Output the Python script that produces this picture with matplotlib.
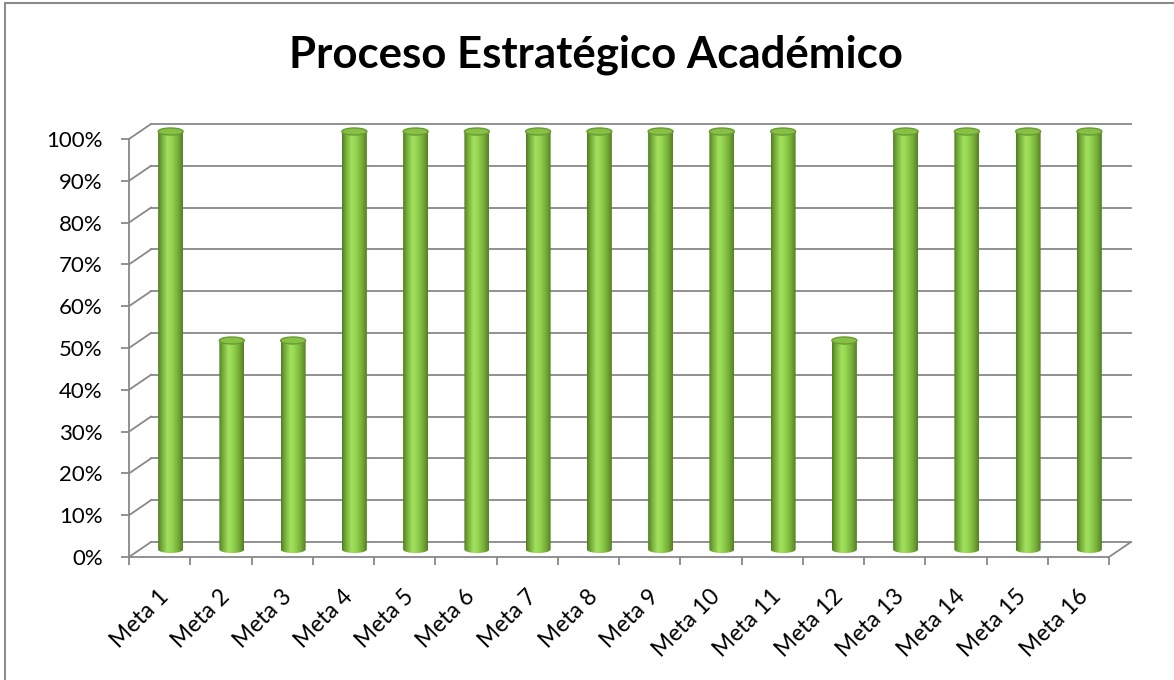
import numpy as np
import matplotlib
matplotlib.use("Agg")
import matplotlib.pyplot as plt
from matplotlib.patches import Ellipse, Polygon, Rectangle
from matplotlib.colors import LinearSegmentedColormap

# ---- datos ----------------------------------------------------------------
metas = ["Meta %d" % i for i in range(1, 17)]
avance = [100, 50, 50, 100, 100, 100, 100, 100, 100, 100, 100, 50, 100, 100, 100, 100]
yticks = list(range(0, 101, 10))
titulo = "Proceso Estratégico Académico"

# ---- geometría (pixeles de la imagen de referencia) -----------------------
W, H, DPI = 1174, 680, 100
PX_X = 61.25          # px por categoría
PX_Y = 4.18           # px por 1 %
X0, Y0 = 129, 557     # origen (0, 0%) en px
DX, DY = 22 / PX_X, 15 / PX_Y   # desplazamiento de la pared de fondo (pseudo 3D)
BAR_W = 25 / PX_X
ELL_H = 7 / PX_Y
GRID = "#888888"

plt.rcParams["font.family"] = ["Lato", "DejaVu Sans"]

fig = plt.figure(figsize=(W / DPI, H / DPI), dpi=DPI)
xmax, ymax = 16.7, 108
ax = fig.add_axes([X0 / W, (H - Y0) / H, xmax * PX_X / W, ymax * PX_Y / H])
ax.set_facecolor("none")

n = len(metas)

# pared de fondo + líneas oblicuas
for y in yticks:
    ax.plot([DX, n + DX], [y + DY, y + DY], color=GRID, lw=1.3, zorder=1)
    ax.plot([0, DX], [y, y + DY], color=GRID, lw=1.3, zorder=1)
ax.plot([n, n + DX], [0, DY], color=GRID, lw=1.3, zorder=1)

# cilindros
cmap = LinearSegmentedColormap.from_list("cil", [
    (0.0, "#4f7d22"), (0.12, "#6fa535"), (0.38, "#a2e05e"),
    (0.55, "#95d651"), (0.82, "#74ab36"), (1.0, "#557f26")])
grad = cmap(np.linspace(0, 1, 64))[None, :, :]
t = np.linspace(np.pi, 2 * np.pi, 40)
for i, v in enumerate(avance):
    cx = i + 0.5 + DX / 2
    base, top = DY / 2, v + DY / 2
    left, right = cx - BAR_W / 2, cx + BAR_W / 2
    arc = np.column_stack([cx + BAR_W / 2 * np.cos(t), base + ELL_H / 2 * np.sin(t)])
    pts = np.vstack([[left, top], arc, [right, top]])
    clip = Polygon(pts, closed=True, facecolor="none", edgecolor="none",
                   transform=ax.transData)
    ax.add_patch(clip)
    im = ax.imshow(grad, extent=(left, right, base - ELL_H, top), aspect="auto",
                   interpolation="bilinear", zorder=3)
    im.set_clip_path(clip)
    ax.add_patch(Ellipse((cx, top), BAR_W, ELL_H, facecolor="#86c145",
                         edgecolor="#6a9a33", lw=1.0, zorder=4))

# ejes
ax.set_xlim(0, xmax)
ax.set_ylim(0, ymax)
for s in ("top", "right"):
    ax.spines[s].set_visible(False)
for s in ("left", "bottom"):
    ax.spines[s].set_color(GRID)
    ax.spines[s].set_linewidth(1.3)
ax.spines["left"].set_bounds(0, 100)
ax.spines["bottom"].set_bounds(0, n)
ax.set_yticks(yticks)
ax.set_yticklabels(["%d%%" % y for y in yticks])
ax.set_xticks(range(n + 1))
ax.set_xticklabels([])
ax.tick_params(axis="both", direction="out", length=5.8, width=1.3, color=GRID)
ax.tick_params(axis="y", pad=13, labelsize=16)

for i, m in enumerate(metas):
    ax.annotate(m, (i + 0.5, 0), xytext=(6, -36), textcoords="offset pixels",
                rotation=45, ha="right", va="center", rotation_mode="anchor",
                fontsize=16.5)

fig.text(596 / W, 1 - 55 / H, titulo, ha="center", va="center",
         fontsize=31.5, fontweight="bold")

# borde del área del gráfico
fig.add_artist(Rectangle((5 / W, -0.1), 1.2, 1.1 - 3 / H, transform=fig.transFigure,
                         fill=False, edgecolor="#8c8c8c", lw=1.5))

fig.savefig("out.png", dpi=DPI)
